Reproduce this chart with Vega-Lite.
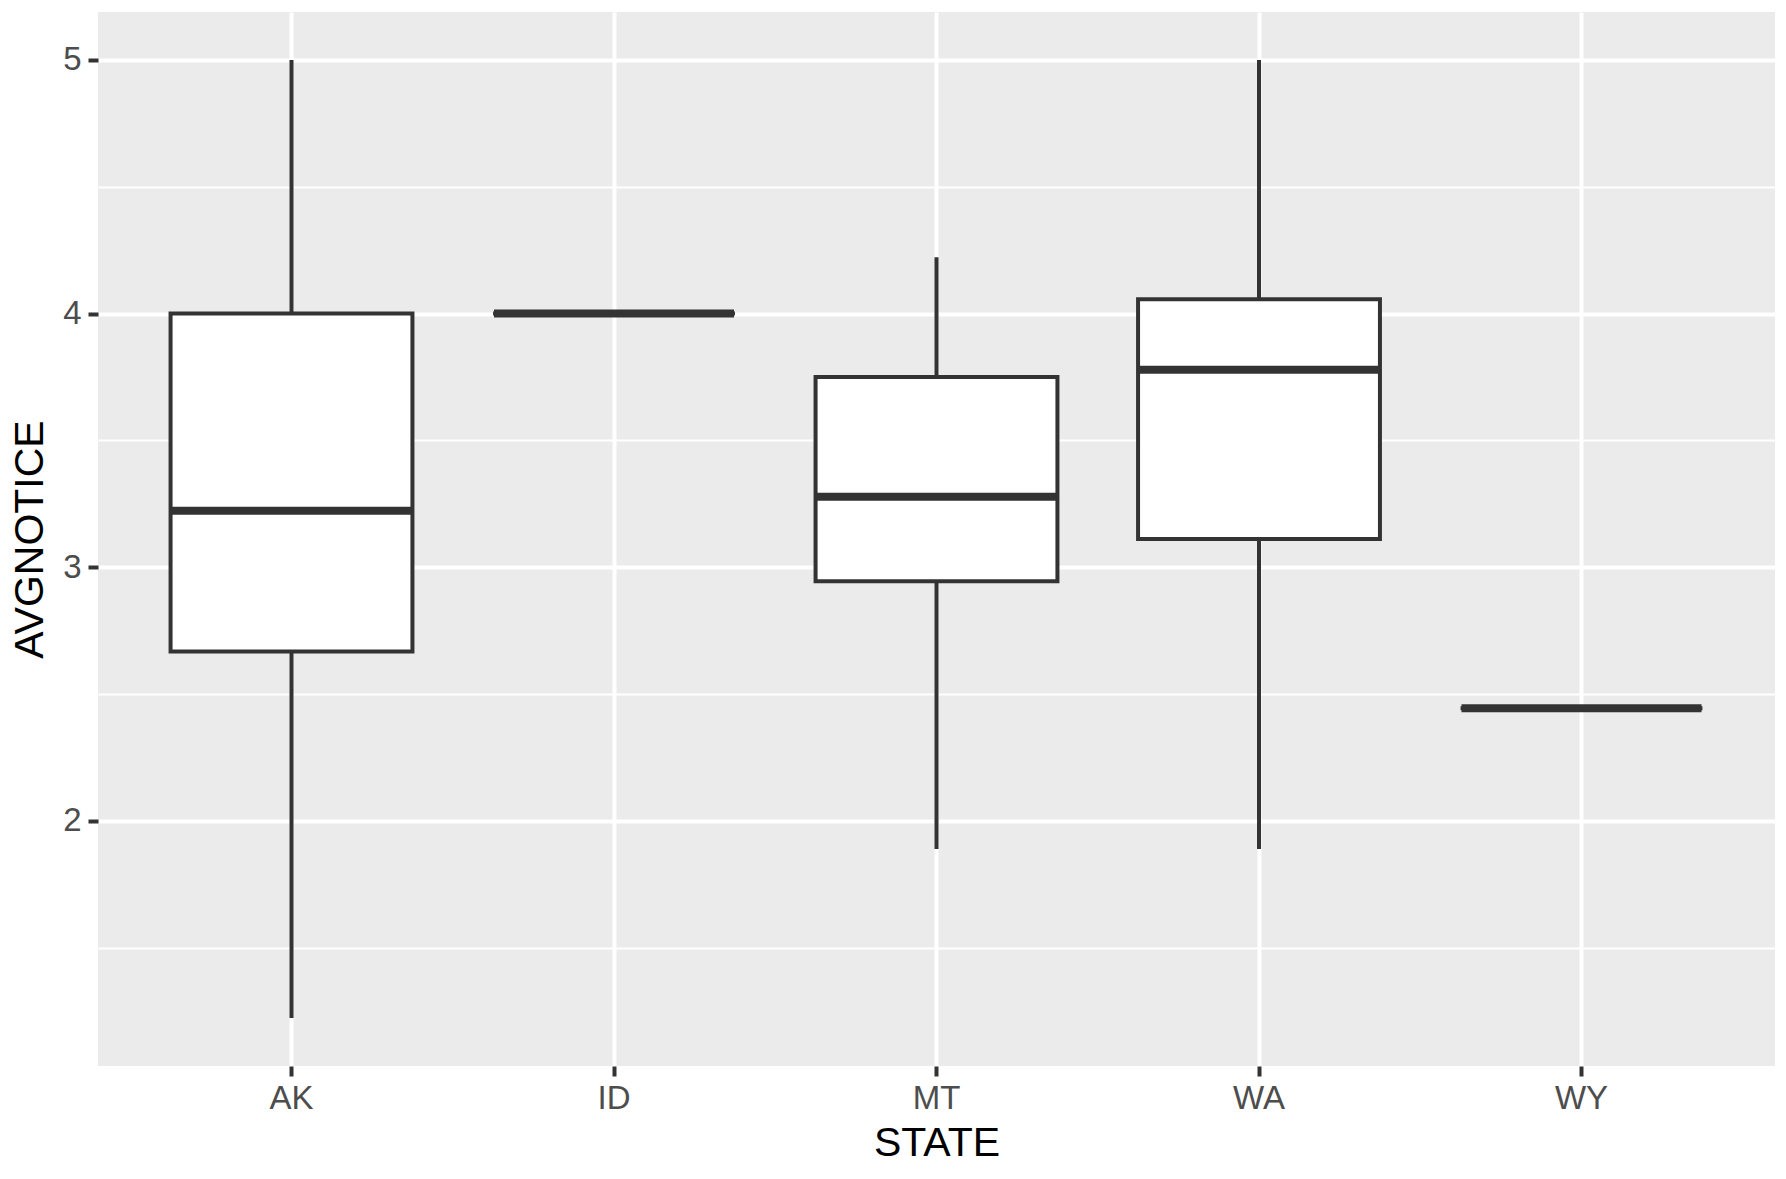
{
  "$schema": "https://vega.github.io/schema/vega-lite/v6.json",
  "autosize": {"type": "none"},
  "padding": {"left": 98, "top": 12, "right": 11, "bottom": 113},
  "width": 1677,
  "height": 1054,
  "background": "white",
  "config": {
    "view": {"stroke": null, "fill": "#EBEBEB"},
    "font": "Liberation Sans",
    "axis": {
      "domain": false,
      "grid": true,
      "gridColor": "#FFFFFF",
      "tickColor": "#333333",
      "tickWidth": 4,
      "tickSize": 10,
      "labelColor": "#4D4D4D",
      "labelFontSize": 33,
      "titleColor": "#000000",
      "titleFontSize": 41,
      "titleFontWeight": "normal"
    }
  },
  "data": {
    "values": [
      {"STATE": "AK", "lower": 1.222, "q1": 2.667, "median": 3.222, "q3": 4.0, "upper": 5.0},
      {"STATE": "ID", "lower": 4.0, "q1": 4.0, "median": 4.0, "q3": 4.0, "upper": 4.0},
      {"STATE": "MT", "lower": 1.889, "q1": 2.944, "median": 3.278, "q3": 3.75, "upper": 4.222},
      {"STATE": "WA", "lower": 1.889, "q1": 3.111, "median": 3.778, "q3": 4.056, "upper": 5.0},
      {"STATE": "WY", "lower": 2.444, "q1": 2.444, "median": 2.444, "q3": 2.444, "upper": 2.444}
    ]
  },
  "encoding": {
    "x": {
      "field": "STATE",
      "type": "nominal",
      "scale": {"type": "band", "paddingInner": 0, "paddingOuter": 0.1},
      "axis": {
        "title": "STATE",
        "labelAngle": 0,
        "bandPosition": 0.5,
        "gridWidth": 4,
        "labelPadding": 6,
        "titlePadding": 8
      }
    }
  },
  "layer": [
    {
      "mark": {"type": "rule", "color": "#333333", "strokeWidth": 4},
      "encoding": {
        "y": {
          "field": "lower",
          "type": "quantitative",
          "scale": {"domain": [1.033, 5.189], "nice": false, "zero": false},
          "axis": {
            "title": "AVGNOTICE",
            "values": [1.5, 2, 2.5, 3, 3.5, 4, 4.5, 5],
            "labelExpr": "datum.value % 1 === 0 ? format(datum.value, 'd') : ''",
            "gridWidth": {"condition": {"test": "datum.value % 1 !== 0", "value": 2}, "value": 4},
            "tickOpacity": {"condition": {"test": "datum.value % 1 !== 0", "value": 0}, "value": 1},
            "labelPadding": 7,
            "titlePadding": 11
          }
        },
        "y2": {"field": "upper"}
      }
    },
    {
      "mark": {"type": "bar", "fill": "#FFFFFF", "stroke": "#333333", "strokeWidth": 4, "width": {"band": 0.75}},
      "encoding": {
        "y": {"field": "q1", "type": "quantitative"},
        "y2": {"field": "q3"}
      }
    },
    {
      "mark": {"type": "tick", "color": "#333333", "orient": "horizontal", "size": 240, "thickness": 8, "opacity": 1},
      "encoding": {
        "y": {"field": "median", "type": "quantitative"}
      }
    }
  ]
}
